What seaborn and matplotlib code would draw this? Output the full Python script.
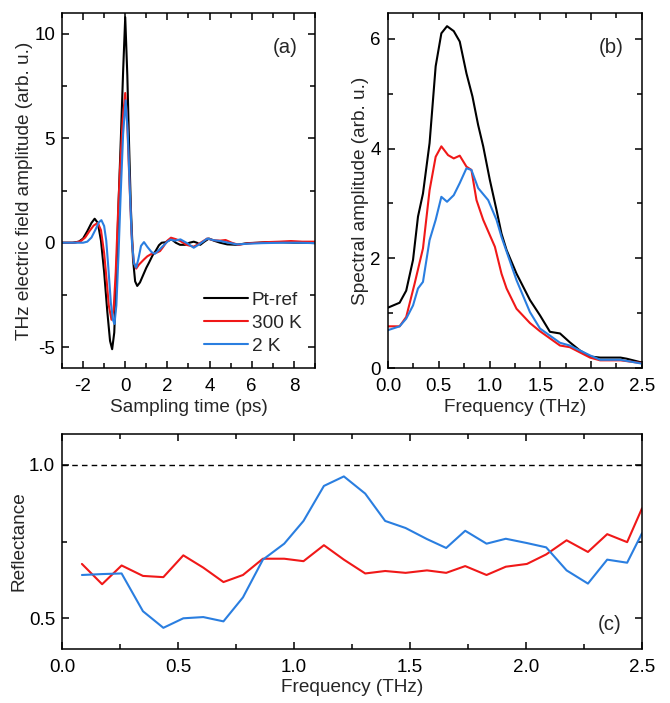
"""THz waveforms, spectra and reflectance (three-panel figure)."""
import matplotlib
matplotlib.use("Agg")
import matplotlib.pyplot as plt
from matplotlib.ticker import MultipleLocator
import numpy as np
import pandas as pd
import seaborn as sns

# ---- panel (a): time-domain waveforms (ps, arb. u.) ----
t_ref = [-3.0, -2.5, -2.2, -2.0, -1.8, -1.6, -1.45, -1.3, -1.15, -1.0, -0.85, -0.72,
         -0.62, -0.52, -0.42, -0.32, -0.2, -0.1, 0.0, 0.1, 0.18, 0.27, 0.37, 0.47,
         0.57, 0.7, 0.85, 1.0, 1.13, 1.3, 1.44, 1.6, 1.73, 1.9, 2.05, 2.2, 2.4, 2.6,
         2.85, 3.05, 3.25, 3.4, 3.56, 3.75, 3.97, 4.2, 4.5, 4.84, 5.3, 5.8, 6.3, 6.75,
         7.5, 8.0, 8.5, 9.0]
e_ref = [0.0, 0.0, 0.05, 0.2, 0.55, 0.95, 1.15, 0.95, 0.1, -1.4, -3.3, -4.7,
         -5.1, -4.3, -1.6, 1.8, 5.2, 8.2, 10.8, 8.0, 4.8, 1.6, -0.8, -1.85,
         -2.07, -1.9, -1.55, -1.2, -0.95, -0.6, -0.4, -0.12, 0.0, 0.02, 0.1, 0.16, 0.0, -0.1,
         -0.1, 0.0, 0.05, 0.0, -0.1, 0.05, 0.2, 0.1, 0.0, -0.08, -0.1, -0.02, 0.0, 0.03,
         0.02, 0.0, 0.0, -0.02]

t_300k = [-3.0, -2.4, -2.1, -1.9, -1.7, -1.5, -1.3, -1.15, -1.0, -0.9, -0.78, -0.65,
          -0.55, -0.45, -0.35, -0.25, -0.12, 0.0, 0.1, 0.2, 0.3, 0.4, 0.52, 0.65,
          0.89, 1.05, 1.29, 1.5, 1.65, 1.8, 2.0, 2.17, 2.4, 2.62, 2.9, 3.25, 3.5,
          3.89, 4.2, 4.5, 4.76, 5.05, 5.37, 5.8, 6.3, 6.75, 7.3, 7.86, 8.4, 9.0]
e_300k = [0.0, 0.0, 0.08, 0.25, 0.55, 0.82, 0.95, 0.6, -0.5, -1.6, -3.0, -3.69,
          -3.2, -1.4, 1.2, 3.5, 5.9, 7.17, 5.6, 2.9, 0.4, -0.9, -1.24, -1.05,
          -0.8, -0.65, -0.51, -0.47, -0.4, -0.2, 0.1, 0.24, 0.17, 0.08, -0.1, -0.19, -0.05,
          0.2, 0.12, 0.1, 0.13, 0.0, -0.1, -0.03, 0.0, 0.03, 0.05, 0.08, 0.05, 0.05]

t_2k = [-3.0, -2.0, -1.8, -1.6, -1.4, -1.25, -1.13, -1.0, -0.9, -0.8, -0.68, -0.58,
        -0.51, -0.42, -0.32, -0.22, -0.1, 0.02, 0.12, 0.22, 0.32, 0.42, 0.52, 0.62,
        0.75, 0.89, 1.05, 1.25, 1.41, 1.6, 1.8, 2.0, 2.15, 2.35, 2.62, 2.9, 3.25,
        3.55, 3.89, 4.2, 4.52, 4.9, 5.3, 5.8, 6.5, 7.5, 8.2, 9.0]
e_2k = [0.0, 0.0, 0.05, 0.25, 0.65, 0.98, 1.08, 0.8, 0.1, -1.2, -2.9, -3.7,
        -3.89, -3.0, -0.6, 2.2, 5.2, 6.82, 5.3, 2.5, 0.0, -1.0, -1.19, -0.8,
        -0.15, 0.03, -0.2, -0.45, -0.53, -0.35, -0.15, 0.05, 0.15, 0.1, 0.16, 0.0, -0.24,
        -0.05, 0.2, 0.12, 0.08, 0.0, -0.08, -0.05, -0.02, 0.0, 0.0, -0.02]

# ---- panel (b): spectral amplitude (THz, arb. u.) ----
f_ref = [0.0, 0.115, 0.18, 0.247, 0.296, 0.345, 0.41, 0.47, 0.526, 0.582, 0.648,
         0.707, 0.773, 0.832, 0.888, 0.938, 1.003, 1.069, 1.118, 1.168, 1.266, 1.398,
         1.497, 1.595, 1.694, 1.79, 1.89, 1.99, 2.09, 2.29, 2.35, 2.5]
s_ref = [1.10, 1.19, 1.41, 1.97, 2.76, 3.18, 4.10, 5.50, 6.10, 6.23, 6.14,
         5.95, 5.37, 4.95, 4.43, 4.04, 3.43, 2.88, 2.45, 2.15, 1.72, 1.24,
         0.96, 0.66, 0.63, 0.47, 0.32, 0.21, 0.19, 0.19, 0.17, 0.10]

f_300k = [0.0, 0.115, 0.18, 0.263, 0.345, 0.41, 0.47, 0.526, 0.592, 0.648, 0.707,
          0.773, 0.822, 0.872, 0.938, 1.053, 1.118, 1.168, 1.266, 1.398, 1.497, 1.694,
          1.79, 1.99, 2.09, 2.29, 2.5]
s_300k = [0.76, 0.76, 0.93, 1.54, 2.18, 3.24, 3.85, 4.04, 3.88, 3.82, 3.87,
          3.67, 3.61, 3.06, 2.70, 2.21, 1.72, 1.45, 1.08, 0.82, 0.67, 0.41,
          0.38, 0.19, 0.14, 0.14, 0.09]

f_2k = [0.0, 0.115, 0.18, 0.247, 0.296, 0.345, 0.41, 0.47, 0.526, 0.582, 0.648,
        0.707, 0.773, 0.822, 0.888, 0.987, 1.069, 1.118, 1.266, 1.398, 1.497, 1.694,
        1.79, 1.99, 2.09, 2.29, 2.5]
s_2k = [0.69, 0.76, 0.90, 1.14, 1.45, 1.57, 2.33, 2.70, 3.12, 3.03, 3.15,
        3.37, 3.64, 3.61, 3.28, 3.06, 2.70, 2.39, 1.60, 1.02, 0.72, 0.46,
        0.41, 0.23, 0.15, 0.15, 0.08]

# ---- panel (c): reflectance ----
f_refl = [0.086, 0.173, 0.257, 0.349, 0.437, 0.523, 0.609, 0.696, 0.780, 0.866,
          0.958, 1.041, 1.129, 1.215, 1.307, 1.393, 1.481, 1.573, 1.656, 1.738,
          1.830, 1.913, 2.004, 2.087, 2.175, 2.267, 2.350, 2.436, 2.5]
r_300k = [0.677, 0.611, 0.672, 0.638, 0.634, 0.705, 0.665, 0.618, 0.641, 0.694,
          0.694, 0.686, 0.738, 0.691, 0.646, 0.654, 0.648, 0.656, 0.648, 0.670,
          0.641, 0.668, 0.677, 0.708, 0.754, 0.716, 0.774, 0.748, 0.858]
r_2k = [0.641, 0.644, 0.646, 0.523, 0.469, 0.500, 0.504, 0.490, 0.568, 0.691,
        0.743, 0.817, 0.931, 0.962, 0.906, 0.817, 0.794, 0.758, 0.729, 0.785,
        0.743, 0.759, 0.745, 0.731, 0.656, 0.613, 0.691, 0.681, 0.777]

BLACK = "#000000"
RED = "#f01818"
BLUE = "#2a7ee0"

sns.set_theme(style="ticks")
plt.rcParams["font.family"] = ["Liberation Sans", "DejaVu Sans"]
plt.rcParams["axes.linewidth"] = 1.1
plt.rcParams["axes.edgecolor"] = "black"
plt.rcParams["axes.unicode_minus"] = False

FS = 13.7
TS = 13.5


def style_axis(ax):
    ax.tick_params(which="both", direction="in", top=True, right=True,
                   labelsize=TS, colors="black", width=1.1)
    ax.tick_params(which="major", length=5)
    ax.tick_params(which="minor", length=3.5)
    ax.tick_params(axis="x", which="major", pad=7)
    ax.tick_params(axis="y", which="major", pad=5)
    for s in ax.spines.values():
        s.set_visible(True)
        s.set_color("black")


def draw(ax, x, y, color, label=None):
    df = pd.DataFrame({"x": x, "y": y})
    sns.lineplot(data=df, x="x", y="y", ax=ax, color=color, lw=1.5,
                 estimator=None, sort=False, label=label, legend=False)


fig = plt.figure(figsize=(6.7, 7.03), dpi=100)
ax_a = fig.add_axes([0.0925, 0.4765, 0.3776, 0.505])
ax_b = fig.add_axes([0.579, 0.4765, 0.379, 0.505])
ax_c = fig.add_axes([0.0925, 0.0768, 0.8657, 0.3058])

# (a)
draw(ax_a, t_ref, e_ref, BLACK, "Pt-ref")
draw(ax_a, t_300k, e_300k, RED, "300 K")
draw(ax_a, t_2k, e_2k, BLUE, "2 K")
ax_a.set_xlim(-3, 9)
ax_a.set_ylim(-6, 11)
ax_a.xaxis.set_major_locator(MultipleLocator(2))
ax_a.xaxis.set_minor_locator(MultipleLocator(1))
ax_a.yaxis.set_major_locator(MultipleLocator(5))
ax_a.yaxis.set_minor_locator(MultipleLocator(2.5))
ax_a.set_xlabel("Sampling time (ps)", fontsize=FS, labelpad=3)
ax_a.set_ylabel("THz electric field amplitude (arb. u.)", fontsize=FS, labelpad=1)
style_axis(ax_a)
ax_a.legend(loc="lower right", frameon=False, fontsize=FS, handlelength=2.3,
            handletextpad=0.2, labelspacing=0.3, borderaxespad=0.3,
            bbox_to_anchor=(1.0, 0.0))
ax_a.text(0.93, 0.93, "(a)", transform=ax_a.transAxes, ha="right", va="top", fontsize=FS + 1)

# (b)
draw(ax_b, f_ref, s_ref, BLACK)
draw(ax_b, f_300k, s_300k, RED)
draw(ax_b, f_2k, s_2k, BLUE)
ax_b.set_xlim(0, 2.5)
ax_b.set_ylim(0, 6.47)
ax_b.xaxis.set_major_locator(MultipleLocator(0.5))
ax_b.xaxis.set_minor_locator(MultipleLocator(0.25))
ax_b.yaxis.set_major_locator(MultipleLocator(2))
ax_b.yaxis.set_minor_locator(MultipleLocator(1))
ax_b.xaxis.set_major_formatter(plt.FormatStrFormatter("%.1f"))
ax_b.set_xlabel("Frequency (THz)", fontsize=FS, labelpad=3)
ax_b.set_ylabel("Spectral amplitude (arb. u.)", fontsize=FS, labelpad=1)
style_axis(ax_b)
ax_b.text(0.93, 0.93, "(b)", transform=ax_b.transAxes, ha="right", va="top", fontsize=FS + 1)

# (c)
ax_c.axhline(1.0, color="black", lw=1.0, ls=(0, (4, 3)))
draw(ax_c, f_refl, r_300k, RED)
draw(ax_c, f_refl, r_2k, BLUE)
ax_c.set_xlim(0, 2.5)
ax_c.set_ylim(0.4, 1.1)
ax_c.xaxis.set_major_locator(MultipleLocator(0.5))
ax_c.xaxis.set_minor_locator(MultipleLocator(0.25))
ax_c.yaxis.set_major_locator(MultipleLocator(0.5))
ax_c.yaxis.set_minor_locator(MultipleLocator(0.25))
ax_c.xaxis.set_major_formatter(plt.FormatStrFormatter("%.1f"))
ax_c.yaxis.set_major_formatter(plt.FormatStrFormatter("%.1f"))
ax_c.set_xlabel("Frequency (THz)", fontsize=FS, labelpad=2)
ax_c.set_ylabel("Reflectance", fontsize=FS, labelpad=1)
style_axis(ax_c)
ax_c.text(0.965, 0.07, "(c)", transform=ax_c.transAxes, ha="right", va="bottom", fontsize=FS + 1)

fig.savefig("out.png", dpi=100)
plt.close(fig)
